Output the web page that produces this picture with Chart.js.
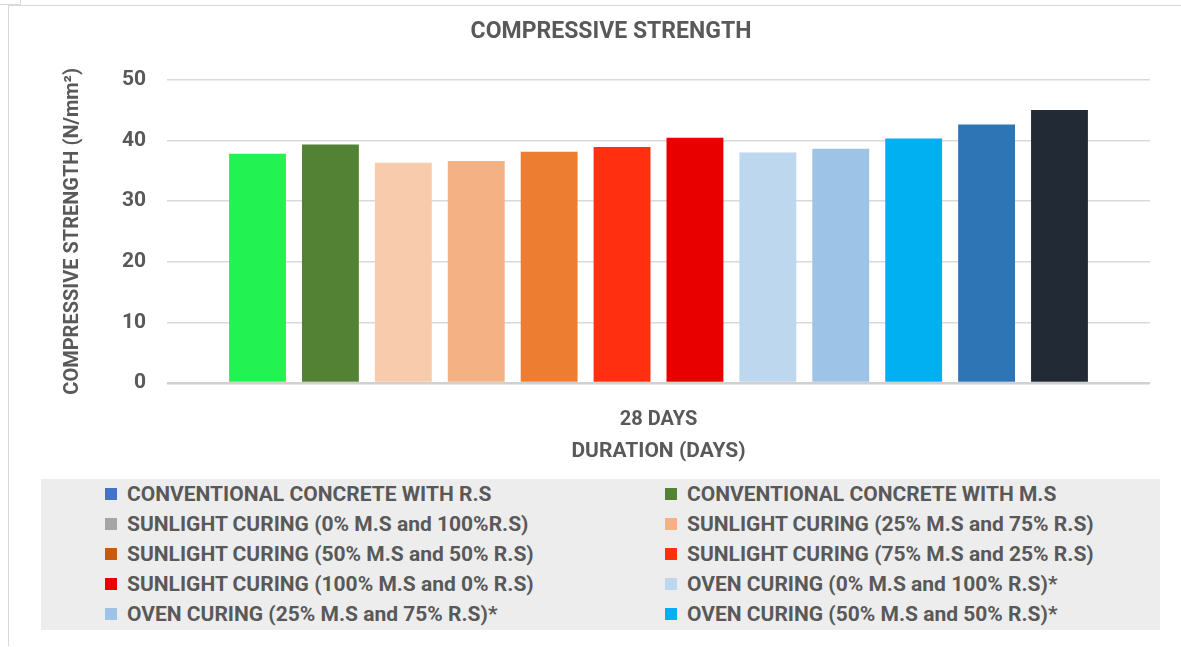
<!DOCTYPE html>
<html lang="en">
<head>
    <meta charset="UTF-8">
    <title>Compressive Strength</title>
    <script src="https://cdn.jsdelivr.net/npm/chart.js"></script>
    <style>
        body { margin: 0; background: #fff; font-family: Roboto, sans-serif; }
        #frame { position: absolute; left: 8px; top: 5px; width: 1180px; height: 640px;
                 border-left: 1px solid #d9d9d9; border-top: 1px solid #d9d9d9; }
        #stub { position: absolute; left: 0; top: 0; width: 20px; height: 4px;
                border-right: 1px solid #d9d9d9; border-bottom: 1px solid #d9d9d9; }
        #wrap { position: absolute; left: 0; top: 0; width: 1181px; height: 475px; }
        #legend { position: absolute; left: 41px; top: 479px; width: 1119px; height: 151px;
                  background: #ededed; display: grid; grid-template-columns: 560px 559px;
                  grid-auto-rows: 30px; box-sizing: border-box; }
        .item { display: flex; align-items: center; color: #595959; font-weight: bold;
                font-size: 21px; white-space: nowrap; padding-left: 64px; }
        .item .sw { width: 12px; height: 12px; margin-right: 10px; flex: none; }
    </style>
</head>
<body>
    <div id="stub"></div>
    <div id="frame"></div>
    <div id="wrap"><canvas id="strengthChart" width="1181" height="475"></canvas></div>
    <div id="legend"></div>

    <script>
        const categories = ['28 DAYS'];
        const seriesNames = [
            'CONVENTIONAL CONCRETE WITH R.S',
            'CONVENTIONAL CONCRETE WITH M.S',
            'SUNLIGHT CURING (0% M.S and 100%R.S)',
            'SUNLIGHT CURING (25% M.S and 75% R.S)',
            'SUNLIGHT CURING (50% M.S and 50% R.S)',
            'SUNLIGHT CURING (75% M.S and 25% R.S)',
            'SUNLIGHT CURING (100% M.S and 0% R.S)',
            'OVEN CURING (0% M.S and 100% R.S)*',
            'OVEN CURING (25% M.S and 75% R.S)*',
            'OVEN CURING (50% M.S and 50% R.S)*',
            'OVEN CURING (75% M.S and 25% R.S)*',
            'OVEN CURING (100% M.S and 0% R.S)*'
        ];
        const strengths = [37.8, 39.3, 36.3, 36.6, 38.1, 38.9, 40.4, 38.0, 38.6, 40.3, 42.6, 45.0];
        const barColors = ['#22f352', '#548235', '#f8cbad', '#f4b183', '#ed7d31', '#ff2f10',
                           '#e80000', '#bdd7ee', '#9dc3e6', '#00b0f0', '#2e75b6', '#222a35'];
        const legendColors = ['#4472c4', '#548235', '#a5a5a5', '#f4b183', '#c55a11', '#ff2f10',
                              '#e80000', '#bdd7ee', '#9dc3e6', '#00b0f0'];
        const legendCount = 10; // only the first ten entries fit in the legend box

        const grey = '#595959';
        const padLeft = 72; // pushes the chart title a bit right, like the original

        const datasets = seriesNames.map((name, i) => ({
            label: name,
            data: [strengths[i]],
            backgroundColor: barColors[i],
            categoryPercentage: 0.89,
            barPercentage: 0.78
        }));

        const ctx = document.getElementById('strengthChart').getContext('2d');
        const chart = new Chart(ctx, {
            type: 'bar',
            data: { labels: categories, datasets: datasets },
            options: {
                responsive: false,
                animation: false,
                layout: { padding: { left: padLeft, right: 31, top: 10, bottom: 0 } },
                plugins: {
                    legend: { display: false },
                    tooltip: { enabled: false },
                    title: {
                        display: true,
                        text: 'COMPRESSIVE STRENGTH',
                        color: grey,
                        font: { family: 'Roboto', size: 23, weight: 'bold' },
                        padding: { top: 8, bottom: 34 }
                    }
                },
                scales: {
                    x: {
                        grid: { display: false },
                        border: { display: false },
                        ticks: { color: grey, padding: 17, font: { family: 'Roboto', size: 20, weight: 'bold' } },
                        title: {
                            display: true,
                            text: 'DURATION (DAYS)',
                            color: grey,
                            font: { family: 'Roboto', size: 21, weight: 'bold' },
                            padding: { top: 0, bottom: 11 }
                        },
                        afterFit: s => { s.height = 92; }
                    },
                    y: {
                        min: 0,
                        max: 50,
                        ticks: { stepSize: 10, color: grey, padding: 21, font: { family: 'Roboto', size: 21, weight: 'bold' } },
                        grid: {
                            drawTicks: false,
                            color: c => c.tick && c.tick.value === 0 ? '#d0d0d0' : '#d9d9d9',
                            lineWidth: c => c.tick && c.tick.value === 0 ? 2.5 : 1.5
                        },
                        border: { display: false },
                        title: {
                            display: true,
                            text: 'COMPRESSIVE STRENGTH (N/mm²)',
                            color: grey,
                            font: { family: 'Roboto', size: 20, weight: 'bold' },
                            padding: { top: -11, bottom: 0 }
                        },
                        afterFit: s => { s.width = 167 - padLeft; }
                    }
                }
            }
        });

        // legend drawn as html, two columns like the original
        const legend = document.getElementById('legend');
        for (let i = 0; i < legendCount; i++) {
            const item = document.createElement('div');
            item.className = 'item';
            const sw = document.createElement('span');
            sw.className = 'sw';
            sw.style.background = legendColors[i];
            item.appendChild(sw);
            item.appendChild(document.createTextNode(seriesNames[i]));
            legend.appendChild(item);
        }
    </script>
</body>
</html>
